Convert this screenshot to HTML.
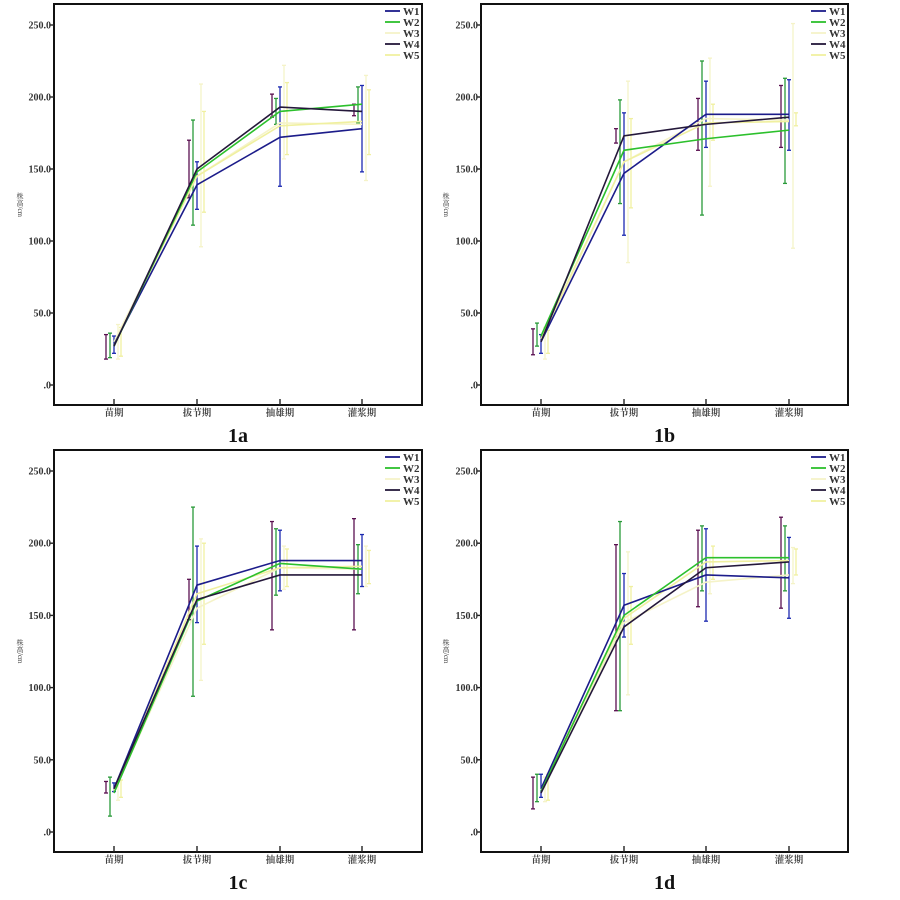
<!DOCTYPE html>
<html><head><meta charset="utf-8"><style>
html,body{margin:0;padding:0;background:#fff;}
svg{display:block;}
</style></head><body>
<svg id="chart" width="900" height="900" xmlns="http://www.w3.org/2000/svg"></svg>
<script>
const categories = ["苗期","拔节期","抽雄期","灌浆期"];
const seriesNames = ["W1","W2","W3","W4","W5"];
const yTicks = [0,50,100,150,200,250];
const yTickLabels = [".0","50.0","100.0","150.0","200.0","250.0"];
const panelTitles = ["1a","1b","1c","1d"];
const meansA = [[28,139,172,178],[27,148,190,195],[30,145,182,181],[27,150,193,190],[28,145,180,183]];
const lowA   = [[22,122,138,148],[19,111,181,182],[18,96,157,142],[18,130,186,187],[20,120,160,160]];
const highA  = [[34,155,207,208],[36,184,199,207],[42,209,222,215],[35,170,202,195],[40,190,210,205]];
const meansB = [[30,147,188,188],[34,163,171,177],[30,155,185,184],[30,173,181,186],[32,155,182,183]];
const lowB   = [[22,104,165,163],[27,126,118,140],[18,85,138,95],[21,168,163,165],[22,123,170,180]];
const highB  = [[35,189,211,212],[43,198,225,213],[40,211,227,251],[39,178,199,208],[38,185,195,189]];
const meansC = [[30,171,188,188],[27,160,186,182],[28,155,183,182],[30,161,178,178],[29,165,183,184]];
const lowC   = [[28,145,167,170],[11,94,164,165],[22,105,168,170],[27,147,140,140],[24,130,170,172]];
const highC  = [[34,198,209,206],[38,225,210,199],[35,203,198,198],[35,175,215,217],[36,200,196,195]];
const meansD = [[30,157,178,176],[28,150,190,190],[29,145,173,178],[27,142,183,187],[30,148,187,188]];
const lowD   = [[24,135,146,148],[21,84,167,167],[21,95,165,172],[16,84,156,155],[22,130,175,178]];
const highD  = [[40,179,210,204],[40,215,212,212],[38,194,190,197],[38,199,209,218],[40,170,198,196]];

const panelsData=[[meansA,lowA,highA],[meansB,lowB,highB],[meansC,lowC,highC],[meansD,lowD,highD]];
const colors=["#1c1c8a","#2cc02c","#f5f3c8","#24183a","#f0f0a0"];
const barColors=["#1c2ab0","#2a9a3a","#f5f3c8","#5a1050","#f0f0a0"];
const offs=[0,-4,4,-8,7];
const layout=[{x0:54,x1:422,y0:4,y1:405,base:385,top:25,cx:[114,197,280,362],ytx:20},
              {x0:481,x1:848,y0:4,y1:405,base:385,top:25,cx:[541,624,706,789],ytx:446},
              {x0:54,x1:422,y0:450,y1:852,base:832,top:471,cx:[114,197,280,362],ytx:20},
              {x0:481,x1:848,y0:450,y1:852,base:832,top:471,cx:[541,624,706,789],ytx:446}];
const svg=document.getElementById('chart');
const NS="http://www.w3.org/2000/svg";
function mk(tag,attrs,parent){const e=document.createElementNS(NS,tag);for(const k in attrs)e.setAttribute(k,attrs[k]);parent.appendChild(e);return e;}
const SERIF='"Liberation Serif","Noto Serif CJK SC",serif';
layout.forEach((L,p)=>{
  const g=mk('g',{},svg);
  
  
  const y=v=>L.base-(v/250)*(L.base-L.top);
  const frame=mk('rect',{x:L.x0,y:L.y0,width:L.x1-L.x0,height:L.y1-L.y0,fill:'none',stroke:'#111','stroke-width':2},g);
  
  
  yTicks.forEach((t,i)=>{
    mk('line',{x1:L.x0-4,x2:L.x0,y1:y(t),y2:y(t),stroke:'#222','stroke-width':1.4},g);
    const tx=mk('text',{x:L.x0-3,y:y(t)+3.5,'text-anchor':'end','font-size':10,'font-weight':'bold','font-family':SERIF,fill:'#333'},g);
    tx.textContent=yTickLabels[i];
    
    
  });
  categories.forEach((c,i)=>{
    mk('line',{x1:L.cx[i],x2:L.cx[i],y1:L.y1-6,y2:L.y1,stroke:'#222','stroke-width':1.4},g);
    const tx=mk('text',{x:L.cx[i],y:L.y1+11,'text-anchor':'middle','font-size':9.5,'font-weight':'bold','font-family':SERIF,fill:'#444'},g);
    tx.textContent=c;
    
    
  });
  const yt=mk('text',{x:L.ytx,y:(L.y0+L.y1)/2-12,'font-size':7,'font-family':SERIF,fill:'#333','writing-mode':'tb'},g);
  yt.textContent='株高/cm';
  
  
  const title=mk('text',{x:(L.x0+L.x1)/2,y:L.y1+37,'text-anchor':'middle','font-size':20,'font-weight':'bold','font-family':SERIF,fill:'#111'},g);
  title.textContent=panelTitles[p];
  
  
  const [means,low,high]=panelsData[p];
  const order=[2,4,0,1,3];
  order.forEach(s=>{
    means[s].forEach((m,i)=>{
      const x=L.cx[i]+offs[s];
      const bg=mk('g',{stroke:barColors[s],'stroke-width':1.3},g);
      
      
      mk('line',{x1:x,x2:x,y1:y(low[s][i]),y2:y(high[s][i])},bg);
      mk('line',{x1:x-2,x2:x+2,y1:y(low[s][i]),y2:y(low[s][i])},bg);
      mk('line',{x1:x-2,x2:x+2,y1:y(high[s][i]),y2:y(high[s][i])},bg);
    });
  });
  order.forEach(s=>{
    const pts=means[s].map((m,i)=>L.cx[i]+','+y(m)).join(' ');
    const pl=mk('polyline',{points:pts,fill:'none',stroke:colors[s],'stroke-width':1.6},g);
    
    
  });
  const lx=L.x1-37, ly=L.y0+7;
  seriesNames.forEach((n,s)=>{
    const lg=mk('g',{},g);
    
    
    mk('line',{x1:lx,x2:lx+15,y1:ly+s*11,y2:ly+s*11,stroke:colors[s],'stroke-width':1.8},lg);
    const t=mk('text',{x:lx+18,y:ly+s*11+4,'font-size':11,'font-weight':'bold','font-family':SERIF,fill:'#333'},lg);
    t.textContent=n;
  });
});
</script>
</body></html>
